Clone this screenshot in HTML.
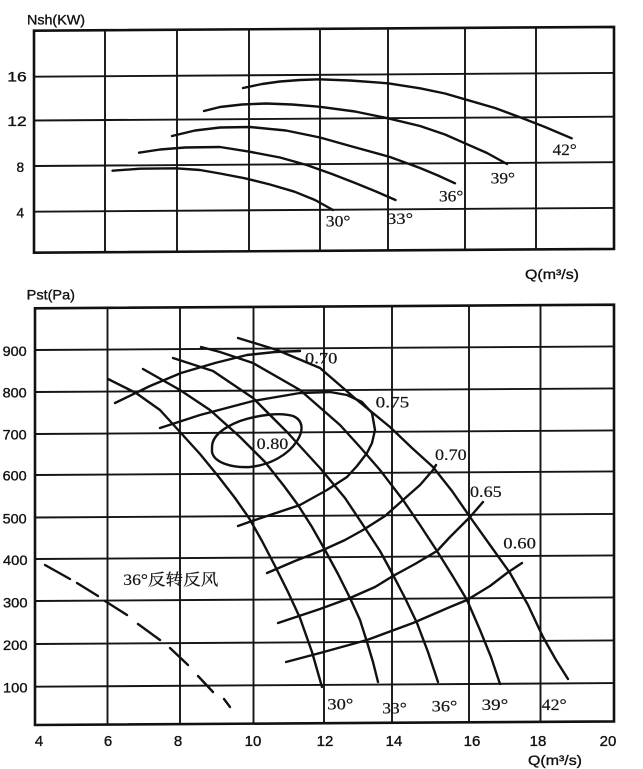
<!DOCTYPE html>
<html>
<head>
<meta charset="utf-8">
<style>
html,body{margin:0;padding:0;background:#fff;}
svg{display:block;}
.g{stroke:#151515;stroke-width:1.9;fill:none;}
.f{stroke:#111;stroke-width:2.6;fill:none;}
.c{stroke:#111;stroke-width:2.4;fill:none;stroke-linejoin:round;stroke-linecap:round;}
.s{font-family:"Liberation Sans",sans-serif;fill:#111;stroke:#111;stroke-width:0.35;}
.r{font-family:"Liberation Serif","Noto Serif CJK SC",serif;fill:#151515;stroke:#151515;stroke-width:0.2;}
</style>
</head>
<body>
<svg width="643" height="769" viewBox="0 0 643 769" xmlns="http://www.w3.org/2000/svg">
<rect width="643" height="769" fill="#fff"/>

<!-- ===== TOP CHART ===== -->
<g>
<line class="g" x1="34" y1="76.7" x2="614" y2="72.9"/>
<line class="g" x1="34" y1="120.5" x2="614" y2="116.7"/>
<line class="g" x1="34" y1="166" x2="614" y2="162.2"/>
<line class="g" x1="34" y1="211.7" x2="614" y2="207.9"/>
<line class="g" x1="105" y1="30.2" x2="105" y2="252.2"/>
<line class="g" x1="177" y1="29.8" x2="177" y2="251.8"/>
<line class="g" x1="249" y1="29.3" x2="249" y2="251.3"/>
<line class="g" x1="320" y1="28.8" x2="320" y2="250.8"/>
<line class="g" x1="388" y1="28.4" x2="388" y2="250.4"/>
<line class="g" x1="465" y1="27.9" x2="465" y2="249.9"/>
<line class="g" x1="536" y1="27.4" x2="536" y2="249.4"/>
<polygon class="f" points="34,30.7 614,26.9 614,248.9 34,252.7"/>

<polyline class="c" points="243,88 262,84 280,81.5 300,80 319,79.3 350,80.5 388,83.3 420,88.3 445,93.5 465,99.3 495,108 520,117.3 545,127 571.7,138.3"/>
<polyline class="c" points="204,111 220,107 242,104.5 266,103.5 292,104.5 319,106.7 355,111.5 388,118.3 420,126 445,134.5 465,143.3 487,153 507,164"/>
<polyline class="c" points="172,136 195,130.5 220,127.5 250,127 286,130.5 320,137.5 352,146.5 390,157 420,168 438,175.5 455,183.3"/>
<polyline class="c" points="139,152.7 160,149.5 185,147.5 220,147 249.5,151.7 280,157.5 306.7,165 332,174 355.8,183.3 376,191.5 395.5,200"/>
<polyline class="c" points="112.5,170.7 140,168.7 176,168.3 200,170 220,173.5 245,178.3 270,184.5 294.5,191.7 315,200 333,210"/>

<text class="s" x="27" y="24.5" font-size="14" textLength="58" lengthAdjust="spacingAndGlyphs">Nsh(KW)</text>
<text class="s" x="7.3" y="81.7" font-size="14" textLength="19.4" lengthAdjust="spacingAndGlyphs">16</text>
<text class="s" x="7.3" y="126" font-size="14" textLength="19.4" lengthAdjust="spacingAndGlyphs">12</text>
<text class="s" x="16.5" y="172" font-size="14" textLength="7.6" lengthAdjust="spacingAndGlyphs">8</text>
<text class="s" x="16.5" y="217.5" font-size="14" textLength="7.6" lengthAdjust="spacingAndGlyphs">4</text>
<text class="s" x="525" y="279" font-size="14" textLength="54" lengthAdjust="spacingAndGlyphs">Q(m³/s)</text>

<text class="r" x="552.7" y="155" font-size="16" textLength="24" lengthAdjust="spacingAndGlyphs">42°</text>
<text class="r" x="490.7" y="183.3" font-size="16" textLength="24.3" lengthAdjust="spacingAndGlyphs">39°</text>
<text class="r" x="439" y="201.7" font-size="16" textLength="24.3" lengthAdjust="spacingAndGlyphs">36°</text>
<text class="r" x="387" y="224" font-size="16" textLength="26" lengthAdjust="spacingAndGlyphs">33°</text>
<text class="r" x="325.8" y="226.7" font-size="16" textLength="24.6" lengthAdjust="spacingAndGlyphs">30°</text>
</g>

<!-- ===== BOTTOM CHART ===== -->
<g>
<line class="g" x1="35" y1="350" x2="614" y2="346.4"/>
<line class="g" x1="35" y1="392" x2="614" y2="388.4"/>
<line class="g" x1="35" y1="434" x2="614" y2="430.4"/>
<line class="g" x1="35" y1="475" x2="614" y2="471.4"/>
<line class="g" x1="35" y1="517.5" x2="614" y2="513.9"/>
<line class="g" x1="35" y1="559" x2="614" y2="555.4"/>
<line class="g" x1="35" y1="601" x2="614" y2="597.4"/>
<line class="g" x1="35" y1="644" x2="614" y2="640.4"/>
<line class="g" x1="35" y1="686.7" x2="614" y2="683.1"/>
<line class="g" x1="107.5" y1="307.85" x2="107.5" y2="724.55"/>
<line class="g" x1="180" y1="307.4" x2="180" y2="724.1"/>
<line class="g" x1="253.5" y1="306.95" x2="253.5" y2="723.65"/>
<line class="g" x1="324" y1="306.5" x2="324" y2="723.2"/>
<line class="g" x1="392" y1="306.1" x2="392" y2="722.8"/>
<line class="g" x1="469" y1="305.6" x2="469" y2="722.3"/>
<line class="g" x1="540.5" y1="305.2" x2="540.5" y2="721.9"/>
<polygon class="f" points="35,308.3 614,304.7 614,721.4 35,725"/>

<polyline class="c" points="108,379 136,393 160,410 180,432 200,454 218,476 235,498 249,518 262,541 275,566 288,592 300,618 312,652 322,687"/>
<polyline class="c" points="143,369 180,390 210,410 240,437 265,462 284,486 298,505 312,527 325,550 338,574 350,598 360,620 367,642 373,662 378,682"/>
<polyline class="c" points="173,358 213,371 253,398 287,432 320,468 345,498 365,528 380,551 392,573 405,598 417,623 428,652 438,682"/>
<polyline class="c" points="201,347 220,352 253,363 300,390 340,425 360,447 380,470 403,500 420,525 437,551 452,575 467,600 480,630 491,657 500,684"/>
<polyline class="c" points="238,338 277,350 320,368 357,400 390,427 412,448 433,467 452,491 470,517 490,545 510,573 528,605 543,637 556,660 568,679"/>

<polyline class="c" points="115,403 150,386 181,373 215,363 247,355 275,352 300,351"/>
<polyline class="c" points="160,428 200,415 253,401 300,393 330,392 347,395 362,402 372,413 375,430 372,443 367,453 357,466 347,477 327,490 300,505 270,515 252,521 238,526"/>
<path class="c" d="M212,447 C212,437 222,428 240,421 C258,415 280,412 293,416 C303,420 304,430 297,441 C288,455 270,465 250,467 C230,468 214,462 212,452 Z"/>
<polyline class="c" points="267,573 295,561 323,550 345,540 363,530 385,516 403,500 420,485 433,470 436,465"/>
<polyline class="c" points="278,623 320,609 350,598 375,587 393,576 415,564 437,551 450,537 470,517 483,502"/>
<polyline class="c" points="286,662 320,653 367,640 413,623 450,607 467,600 490,586 507,573 522,563"/>

<g class="c">
<line x1="45" y1="565" x2="70" y2="579"/>
<line x1="77" y1="583" x2="98" y2="596"/>
<line x1="105" y1="601" x2="127" y2="615"/>
<line x1="138" y1="624" x2="160" y2="640"/>
<line x1="170" y1="648" x2="188" y2="665"/>
<line x1="198" y1="676" x2="213" y2="692"/>
<line x1="224" y1="699" x2="230" y2="707"/>
</g>

<text class="s" x="26.7" y="299.5" font-size="14" textLength="48.3" lengthAdjust="spacingAndGlyphs">Pst(Pa)</text>
<text class="s" x="2.7" y="356" font-size="14" textLength="24" lengthAdjust="spacingAndGlyphs">900</text>
<text class="s" x="2.7" y="397.3" font-size="14" textLength="24" lengthAdjust="spacingAndGlyphs">800</text>
<text class="s" x="2.7" y="439.5" font-size="14" textLength="24" lengthAdjust="spacingAndGlyphs">700</text>
<text class="s" x="2.7" y="480.7" font-size="14" textLength="24" lengthAdjust="spacingAndGlyphs">600</text>
<text class="s" x="2.7" y="523.3" font-size="14" textLength="24" lengthAdjust="spacingAndGlyphs">500</text>
<text class="s" x="3" y="565" font-size="14" textLength="24.5" lengthAdjust="spacingAndGlyphs">400</text>
<text class="s" x="3" y="607.3" font-size="14" textLength="24.5" lengthAdjust="spacingAndGlyphs">300</text>
<text class="s" x="3" y="650" font-size="14" textLength="24.5" lengthAdjust="spacingAndGlyphs">200</text>
<text class="s" x="3" y="692.7" font-size="14" textLength="24.5" lengthAdjust="spacingAndGlyphs">100</text>

<g class="s" font-size="15" text-anchor="middle">
<text x="39" y="746">4</text>
<text x="108" y="746">6</text>
<text x="178" y="746">8</text>
<text x="253" y="746">10</text>
<text x="325" y="746">12</text>
<text x="394" y="746">14</text>
<text x="472" y="746">16</text>
<text x="538" y="746">18</text>
<text x="608" y="746">20</text>
</g>
<text class="s" x="528" y="765" font-size="14" textLength="54" lengthAdjust="spacingAndGlyphs">Q(m³/s)</text>

<text class="r" x="327.3" y="709.3" font-size="16" textLength="26" lengthAdjust="spacingAndGlyphs">30°</text>
<text class="r" x="382.3" y="713.3" font-size="16" textLength="24.4" lengthAdjust="spacingAndGlyphs">33°</text>
<text class="r" x="431.7" y="711.7" font-size="16" textLength="25.6" lengthAdjust="spacingAndGlyphs">36°</text>
<text class="r" x="481.7" y="710" font-size="16" textLength="26.6" lengthAdjust="spacingAndGlyphs">39°</text>
<text class="r" x="541.7" y="710" font-size="16" textLength="25" lengthAdjust="spacingAndGlyphs">42°</text>

<text class="r" x="305" y="363.3" font-size="16" textLength="32.3" lengthAdjust="spacingAndGlyphs">0.70</text>
<text class="r" x="375.7" y="407.3" font-size="16" textLength="33.6" lengthAdjust="spacingAndGlyphs">0.75</text>
<text class="r" x="256.7" y="449" font-size="16" textLength="31.6" lengthAdjust="spacingAndGlyphs">0.80</text>
<text class="r" x="435" y="460" font-size="16" textLength="31.7" lengthAdjust="spacingAndGlyphs">0.70</text>
<text class="r" x="470" y="497" font-size="16" textLength="31.7" lengthAdjust="spacingAndGlyphs">0.65</text>
<text class="r" x="503.3" y="548.3" font-size="16" textLength="32.7" lengthAdjust="spacingAndGlyphs">0.60</text>

<text class="r" x="123.3" y="585" font-size="16" textLength="95" lengthAdjust="spacingAndGlyphs">36°反转反风</text>
</g>
</svg>
</body>
</html>
